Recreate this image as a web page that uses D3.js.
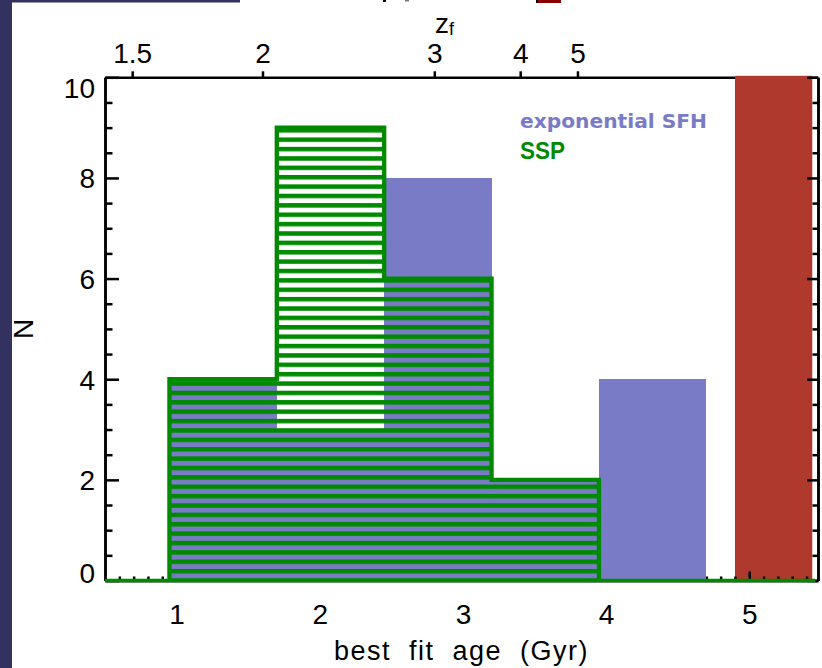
<!DOCTYPE html>
<meta charset="utf-8">
<body style="margin:0; background:#fff;">
<div id="chart"></div>
<style>
  text { font-family: 'Liberation Sans', Arial, sans-serif; }
  .axis path, .axis line { stroke: #000; stroke-width: 2.5px; fill: none; }
  .axis text { font-size: 28px; fill: #000; font-family: 'Liberation Sans', Arial, sans-serif; }
</style>
<script src="https://cdnjs.cloudflare.com/ajax/libs/d3/7.8.5/d3.min.js"></script>
<script>
// histogram bins (best fit age, Gyr) and counts
const binEdges = [0.95, 1.70, 2.45, 3.20, 3.95, 4.70];
const expCounts = [4, 3, 8, 2, 4];   // exponential SFH
const sspCounts = [4, 9, 6, 2, 0];   // SSP
const redRange = [4.90, 5.44];       // shaded region
const xTicks = [1, 2, 3, 4, 5];
const yTicks = [0, 2, 4, 6, 8, 10];
// top axis: formation redshift, placed at the ages
const zfLabels = ["1.5", "2", "3", "4", "5"];
const zfAges = [0.69, 1.60, 2.80, 3.40, 3.80];

const width = 822, height = 668;
const blue = "#7a7bc6", green = "#008a00", red = "#b0392e", navy = "#33315f";

const x = d3.scaleLinear().domain([0.5, 5.48]).range([105, 818]);
const y = d3.scaleLinear().domain([0, 10]).range([580.5, 77.3]);

const svg = d3.select("#chart").append("svg")
  .attr("width", width)
  .attr("height", height)
  .style("display", "block");

// slide frame bits around the figure
svg.append("rect").attr("x", 0).attr("y", 0).attr("width", 12).attr("height", height).attr("fill", navy);
svg.append("rect").attr("x", 12).attr("y", 0).attr("width", 228).attr("height", 2.5).attr("fill", navy);
svg.append("rect").attr("x", 537).attr("y", 0).attr("width", 24).attr("height", 3).attr("fill", "#8b0000");
svg.append("rect").attr("x", 536).attr("y", 0).attr("width", 2).attr("height", 3).attr("fill", "#000");
svg.append("rect").attr("x", 383).attr("y", 0).attr("width", 3).attr("height", 2).attr("fill", "#000");
svg.append("rect").attr("x", 405).attr("y", 0).attr("width", 4).attr("height", 1.5).attr("fill", "#777");

// hatch for the SSP histogram
const defs = svg.append("defs");
const hatch = defs.append("pattern")
  .attr("id", "hatch")
  .attr("patternUnits", "userSpaceOnUse")
  .attr("x", 0).attr("y", 128.06)
  .attr("width", width).attr("height", 9.38);
hatch.append("rect").attr("x", 0).attr("y", 0).attr("width", width).attr("height", 4.5).attr("fill", green);

// top axis (z_f) goes under the red region
svg.append("g").attr("class", "axis")
  .attr("transform", "translate(0," + y(10) + ")")
  .call(d3.axisTop(x).tickValues(zfAges)
    .tickFormat(function(d, i) { return zfLabels[i]; })
    .tickSizeInner(6).tickSizeOuter(0).tickPadding(8));

svg.append("text")
  .attr("x", 435).attr("y", 33)
  .style("font-size", "28px")
  .text("z")
  .append("tspan").attr("dy", 2).style("font-size", "18px").text("f");

// red shaded region
svg.append("rect")
  .attr("x", x(redRange[0]))
  .attr("y", y(10) - 1.5)
  .attr("width", x(redRange[1]) - x(redRange[0]))
  .attr("height", y(0) - y(10) + 1.5)
  .attr("fill", red);

// left axis
svg.append("g").attr("class", "axis")
  .attr("transform", "translate(" + x(0.5) + ",0)")
  .call(d3.axisLeft(y).tickValues(d3.range(0, 10.01, 0.5).filter(function(d) { return d % 2 !== 0; }))
    .tickFormat("").tickSizeInner(-7.5).tickSizeOuter(0));
const leftAxis = svg.append("g").attr("class", "axis")
  .attr("transform", "translate(" + x(0.5) + ",0)")
  .call(d3.axisLeft(y).tickValues(yTicks).tickSizeInner(-14).tickSizeOuter(0).tickPadding(10));
leftAxis.selectAll(".tick text")
  .attr("dy", null)
  .attr("y", function(d) { return Math.min(Math.max(y(d), 87), 572) - y(d) + 10; });

// right axis
svg.append("g").attr("class", "axis")
  .attr("transform", "translate(" + x(5.48) + ",0)")
  .call(d3.axisLeft(y).tickValues(d3.range(0, 10.01, 0.5).filter(function(d) { return d % 2 !== 0; }))
    .tickFormat("").tickSizeInner(5.5).tickSizeOuter(0));
svg.append("g").attr("class", "axis")
  .attr("transform", "translate(" + x(5.48) + ",0)")
  .call(d3.axisLeft(y).tickValues(yTicks).tickFormat("").tickSizeInner(11).tickSizeOuter(0));

// bottom axis
svg.append("g").attr("class", "axis")
  .attr("transform", "translate(0," + y(0) + ")")
  .call(d3.axisBottom(x).tickValues(d3.range(0.6, 5.45, 0.1).filter(function(d) { return Math.abs(d - Math.round(d)) > 0.01; }))
    .tickFormat("").tickSizeInner(-4).tickSizeOuter(0));
svg.append("g").attr("class", "axis")
  .attr("transform", "translate(0," + y(0) + ")")
  .call(d3.axisBottom(x).tickValues(xTicks).tickFormat(d3.format("d"))
    .tickSizeInner(-9).tickSizeOuter(0).tickPadding(23.5));

// exponential SFH histogram (solid)
const bins = expCounts.map(function(c, i) {
  return { x0: binEdges[i], x1: binEdges[i + 1], exp: c, ssp: sspCounts[i] };
});
svg.append("g").selectAll("rect")
  .data(bins)
  .join("rect")
  .attr("x", function(d) { return x(d.x0); })
  .attr("y", function(d) { return y(d.exp); })
  .attr("width", function(d) { return x(d.x1) - x(d.x0); })
  .attr("height", function(d) { return y(0) - y(d.exp); })
  .attr("fill", blue)
  .attr("shape-rendering", "crispEdges");

// SSP histogram: step outline + hatch
const steps = [];
bins.forEach(function(d) {
  if (d.ssp > 0) { steps.push([d.x0, d.ssp]); steps.push([d.x1, d.ssp]); }
});
const poly = [[steps[0][0], 0]].concat(steps).concat([[steps[steps.length - 1][0], 0]]);
const line = d3.line().x(function(d) { return x(d[0]); }).y(function(d) { return y(d[1]); });

svg.append("path")
  .attr("d", line(poly) + "Z")
  .attr("fill", "url(#hatch)");
svg.append("path")
  .attr("d", line(poly))
  .attr("fill", "none")
  .attr("stroke", green)
  .attr("stroke-width", 4.3)
  .attr("stroke-linejoin", "miter");
svg.append("path")
  .attr("d", line([[0.5, 0], [5.46, 0]]))
  .attr("stroke", green)
  .attr("stroke-width", 3.5);

// legend
svg.append("text")
  .attr("x", 520).attr("y", 128)
  .attr("fill", blue)
  .attr("textLength", 187).attr("lengthAdjust", "spacingAndGlyphs")
  .style("font-size", "19px").style("font-weight", "bold")
  .style("font-family", "'DejaVu Sans', sans-serif")
  .text("exponential SFH");
svg.append("text")
  .attr("x", 520).attr("y", 159)
  .attr("fill", green)
  .attr("textLength", 45).attr("lengthAdjust", "spacingAndGlyphs")
  .style("font-size", "24px").style("font-weight", "bold")
  .text("SSP");

// axis titles
svg.append("text")
  .attr("x", (x(0.5) + x(5.48)) / 2).attr("y", 660)
  .attr("text-anchor", "middle")
  .style("font-size", "27px")
  .style("letter-spacing", "1.5px")
  .style("word-spacing", "9px")
  .text("best fit age (Gyr)");
svg.append("text")
  .attr("transform", "translate(33," + (y(0) + y(10)) / 2 + ") rotate(-90)")
  .attr("text-anchor", "middle")
  .style("font-size", "28px")
  .text("N");
</script>
</body>
